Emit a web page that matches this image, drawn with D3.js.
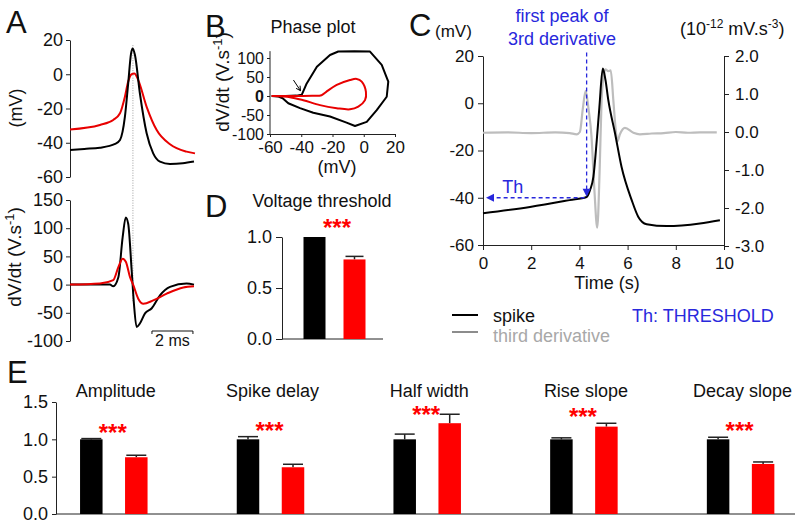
<!DOCTYPE html>
<html><head><meta charset="utf-8">
<script src="https://cdn.jsdelivr.net/npm/d3@7/dist/d3.min.js"></script>
<style>body{margin:0;background:#fff}svg{display:block}</style>
</head><body>
<svg id="c" width="799" height="523"></svg>
<script>
// ---------------- DATA ----------------
// Panel A (time in ms)
const aVmBlackT = [0, 0.7, 1.46, 2.2, 2.44, 2.68, 2.84, 2.98, 3.06, 3.17, 3.41, 3.74, 4.06, 4.39, 4.88, 5.5, 6.05];
const aVmBlack  = [-44.2, -43.6, -42.9, -40.7, -38.4, -24.8, -5.3, 12.2, 15.1, 11.2, -11.1, -34.5, -46.2, -51, -52.4, -52, -51];
const aVmRedT   = [0, 1.46, 2.11, 2.44, 2.68, 2.84, 3.01, 3.14, 3.33, 3.74, 4.23, 4.88, 5.69, 6.1];
const aVmRed    = [-32.2, -29.6, -26.7, -22.8, -13.1, -4.3, 0.1, 0.5, -3.4, -19, -32.6, -40.9, -45.2, -46.2];
const aDvBlackT = [0, 1.95, 2.11, 2.36, 2.57, 2.72, 2.84, 3.01, 3.12, 3.25, 3.41, 3.66, 3.99, 4.39, 4.88, 5.69, 6.05];
const aDvBlack  = [0, 0, -3, 13, 84, 119, 108, 25, -34, -75, -69, -51, -42, -19, -4, 2, 0];
const aDvRedT   = [0, 1.46, 2.11, 2.36, 2.57, 2.73, 2.93, 3.09, 3.33, 3.58, 4.06, 4.72, 5.53, 6.05];
const aDvRed    = [0, 2, 8, 31, 46, 40, 13, -1, -25, -34, -28, -16, -5, -3];
const aPeakTime = 3.07;
const aScaleBarStart = 4.0, aScaleBarLen = 2;
const aTicksVm = [20, 0, -20, -40, -60];
const aTicksDv = [150, 100, 50, 0, -50, -100];

// Panel B (phase plot: mV vs V/s)
const bBlackV  = [-59, -50, -43, -39.7, -36.5, -30, -21.6, -16.3, -6, 4, 11.5, 15.7, 14.7, 8.3, 1.9, -5.6, -11, -21.6, -32.3, -40.8, -48.3, -51.9, -55, -59];
const bBlackDV = [0, 0, 1, 3, 33, 77, 108, 117, 118, 117, 82, 38, -2, -37, -68, -79, -70, -54, -44, -32, -19, -6, -1, 0];
const bRedV    = [-59, -45, -33, -27, -24, -17.3, -8.8, -4.5, -1.3, 1.4, 0.8, -3.5, -8.8, -17.3, -28, -38.7, -47.2, -57];
const bRedDV   = [0, 0, 0.5, 2, 11, 29, 42, 45, 38, 11, -11, -28, -35, -32, -24, -11, -3, 0];
const bTicksX = [-60, -40, -20, 0, 20];
const bTicksY = [100, 50, 0, -50, -100];

// Panel C (time in s)
const cSpikeT = [0, 1.95, 3.6, 4.3, 4.44, 4.58, 4.72, 4.83, 4.97, 5.08, 5.2, 5.48, 5.75, 6.17, 6.44, 6.79, 7.62, 9.0, 9.83];
const cSpikeV = [-46.6, -43.9, -41, -39.7, -36.8, -31.2, -15.7, -1.6, 14.7, 10, 1.3, -12.8, -27, -41, -48, -51.2, -52, -50.9, -49.5];
const cDerivT = [0, 1, 2, 3, 3.6, 3.89, 4.02, 4.14, 4.26, 4.38, 4.5, 4.62, 4.74, 4.84, 4.92, 5.0, 5.08, 5.2, 5.3, 5.41, 5.5, 5.58, 5.68, 5.89, 6.24, 6.51, 7, 7.5, 8, 8.5, 9, 9.7];
const cDeriv  = [-0.02, -0.01, -0.03, -0.01, -0.03, -0.06, 0, 0.6, 1.08, 0.6, -0.1, -1.5, -2.52, -1.0, 0.82, 1.45, 1.65, 1.6, 1.62, 0.82, 0.1, -0.24, -0.06, 0.11, -0.02, -0.06, -0.04, -0.03, 0.0, -0.02, -0.01, -0.01];
const cThreshT = 4.3, cThreshV = -40;
const cTicksX = [0, 2, 4, 6, 8, 10];
const cTicksL = [20, 0, -20, -40, -60];
const cTicksR = [2, 1, 0, -1, -2, -3];

// Panel D
const dGroups = ["control", "treated"];
const dValues = [1.0, 0.78];
const dErrors = [0, 0.03];
const dTicks = [0, 0.5, 1.0];

// Panel E
const eCategories = ["Amplitude", "Spike delay", "Half width", "Rise slope", "Decay slope"];
const eBlack    = [1.0, 1.0, 1.0, 1.0, 1.0];
const eBlackErr = [0.01, 0.036, 0.07, 0.02, 0.028];
const eRed      = [0.76, 0.626, 1.216, 1.17, 0.67];
const eRedErr   = [0.027, 0.04, 0.12, 0.045, 0.027];
const eSig      = ["***", "***", "***", "***", "***"];
const eTicks = [0, 0.5, 1.0, 1.5];

// ---------------- DRAWING ----------------
const F = '"Liberation Sans", Arial, Helvetica, sans-serif';
const BLUE = "#2828dc", RED = "#ff0000", REDLINE = "#e80000", AX = "#222";
const svg = d3.select("#c");
const fmtInt = d => String(d);
const fmt1 = d => d.toFixed(1);

function styleAxis(g, fs) {
  g.selectAll("path.domain").attr("stroke", AX).attr("stroke-width", 1);
  g.selectAll(".tick line").attr("stroke", AX).attr("stroke-width", 1);
  g.selectAll(".tick text").attr("font-size", fs).attr("fill", "#111").attr("font-family", F);
  return g;
}
function text(x, y, s, o = {}) {
  return svg.append("text").attr("x", x).attr("y", y).text(s)
    .attr("font-family", F).attr("font-size", o.size || 18)
    .attr("fill", o.fill || "#111").attr("text-anchor", o.anchor || "start")
    .attr("font-weight", o.weight || "normal");
}
function pathLine(xs, ys, X, Y, curve) {
  return d3.line().x(d => X(d[0])).y(d => Y(d[1])).curve(curve)(d3.zip(xs, ys));
}
function rotLabel(x, y, parts, size) {
  const t = svg.append("text").attr("transform", `translate(${x},${y}) rotate(-90)`)
    .attr("text-anchor", "middle").attr("font-family", F).attr("font-size", size).attr("fill", "#111");
  parts.forEach(p => {
    const ts = t.append("tspan").text(p.t);
    if (p.sup) ts.attr("font-size", size * 0.68).attr("dy", -size * 0.38);
    else if (p.after) ts.attr("dy", size * 0.38);
  });
  return t;
}

// Panel letters
text(6, 33, "A", {size: 31});
text(205, 37, "B", {size: 31});
text(409, 36, "C", {size: 31});
text(205, 217, "D", {size: 31});
text(7, 383, "E", {size: 31});

// ---- Panel A ----
const xA = d3.scaleLinear().domain([0, 6.1]).range([70, 195]);
const yA1 = d3.scaleLinear().domain([-60, 20]).range([177, 40]);
const yA2 = d3.scaleLinear().domain([-100, 150]).range([341, 200]);
styleAxis(svg.append("g").attr("transform", "translate(70,0)")
  .call(d3.axisLeft(yA1).tickValues(aTicksVm).tickFormat(fmtInt).tickSize(4).tickSizeOuter(0).tickPadding(3)), 18);
styleAxis(svg.append("g").attr("transform", "translate(70,0)")
  .call(d3.axisLeft(yA2).tickValues(aTicksDv).tickFormat(fmtInt).tickSize(4).tickSizeOuter(0).tickPadding(3)), 18);
rotLabel(22, 108, [{t: "(mV)"}], 18);
rotLabel(21, 257, [{t: "dV/dt (V.s"}, {t: "-1", sup: true}, {t: ")", after: true}], 19);
svg.append("line").attr("x1", xA(aPeakTime)).attr("x2", xA(aPeakTime))
  .attr("y1", yA1(17)).attr("y2", yA2(-30))
  .attr("stroke", "#888").attr("stroke-width", 0.8).attr("stroke-dasharray", "1,1.5");
const mono = d3.curveMonotoneX;
svg.append("path").attr("d", pathLine(aVmRedT, aVmRed, xA, yA1, mono)).attr("fill", "none").attr("stroke", REDLINE).attr("stroke-width", 2);
svg.append("path").attr("d", pathLine(aVmBlackT, aVmBlack, xA, yA1, mono)).attr("fill", "none").attr("stroke", "#000").attr("stroke-width", 2);
svg.append("path").attr("d", pathLine(aDvBlackT, aDvBlack, xA, yA2, mono)).attr("fill", "none").attr("stroke", "#000").attr("stroke-width", 2);
svg.append("path").attr("d", pathLine(aDvRedT, aDvRed, xA, yA2, mono)).attr("fill", "none").attr("stroke", REDLINE).attr("stroke-width", 2);
// scale bar
{
  const x0 = xA(aScaleBarStart), x1 = xA(aScaleBarStart + aScaleBarLen), y = 331;
  svg.append("path").attr("d", `M${x0},${y + 3}V${y}H${x1}V${y + 3}`).attr("fill", "none").attr("stroke", "#111").attr("stroke-width", 1);
  text((x0 + x1) / 2, 346, "2 ms", {size: 16, anchor: "middle"});
}

// ---- Panel B ----
const xB = d3.scaleLinear().domain([-60, 20]).range([270, 395]);
const yB = d3.scaleLinear().domain([-100, 100]).range([134, 58]);
const gBy = styleAxis(svg.append("g").attr("transform", "translate(270,0)")
  .call(d3.axisLeft(yB).tickValues(bTicksY).tickFormat(fmtInt).tickSize(3).tickSizeOuter(0).tickPadding(3)), 16);
gBy.selectAll(".tick text").filter(d => d === 0).attr("font-weight", "bold");
gBy.select("path.domain").attr("d", `M-0,${yB(118)}V${yB(-100)}`);
styleAxis(svg.append("g").attr("transform", "translate(0,134)")
  .call(d3.axisBottom(xB).tickValues(bTicksX).tickFormat(fmtInt).tickSize(3).tickSizeOuter(0).tickPadding(4)), 17);
text(313, 33, "Phase plot", {size: 18, anchor: "middle"});
text(337, 173, "(mV)", {size: 18, anchor: "middle"});
rotLabel(229, 82, [{t: "dV/dt (V.s"}, {t: "-1", sup: true}, {t: ")", after: true}], 19);
svg.append("path").attr("d", pathLine(bBlackV, bBlackDV, xB, yB, d3.curveLinear)).attr("fill", "none").attr("stroke", "#000").attr("stroke-width", 2).attr("stroke-linejoin", "round");
svg.append("path").attr("d", pathLine(bRedV, bRedDV, xB, yB, d3.curveCatmullRom.alpha(0.5))).attr("fill", "none").attr("stroke", REDLINE).attr("stroke-width", 2);
{
  const x0 = xB(-45), y0 = yB(42), x1 = xB(-40.5), y1 = yB(14);
  svg.append("line").attr("x1", x0).attr("y1", y0).attr("x2", x1).attr("y2", y1).attr("stroke", "#000").attr("stroke-width", 1);
  const ang = Math.atan2(y1 - y0, x1 - x0), L = 5;
  const p = [[x1 - L * Math.cos(ang - 0.5), y1 - L * Math.sin(ang - 0.5)], [x1, y1], [x1 - L * Math.cos(ang + 0.5), y1 - L * Math.sin(ang + 0.5)]];
  svg.append("path").attr("d", d3.line()(p)).attr("fill", "none").attr("stroke", "#000").attr("stroke-width", 1);
}

// ---- Panel C ----
const xC = d3.scaleLinear().domain([0, 10]).range([483, 724]);
const yC = d3.scaleLinear().domain([-60, 20]).range([245, 56]);
const yC2 = d3.scaleLinear().domain([-3, 2]).range([246, 56]);
styleAxis(svg.append("g").attr("transform", "translate(483,0)")
  .call(d3.axisLeft(yC).tickValues(cTicksL).tickFormat(fmtInt).tickSize(5).tickSizeOuter(0).tickPadding(4)), 17);
styleAxis(svg.append("g").attr("transform", "translate(0,245)")
  .call(d3.axisBottom(xC).tickValues(cTicksX).tickFormat(fmtInt).tickSize(5).tickSizeOuter(0).tickPadding(7)), 17);
styleAxis(svg.append("g").attr("transform", "translate(724,0)")
  .call(d3.axisRight(yC2).tickValues(cTicksR).tickFormat(fmt1).tickSize(5).tickSizeOuter(0).tickPadding(6)), 17);
text(435, 37, "(mV)", {size: 17});
{
  const t = svg.append("text").attr("x", 680).attr("y", 35).attr("font-family", F).attr("font-size", 18).attr("fill", "#111");
  t.append("tspan").text("(10");
  t.append("tspan").text("-12").attr("font-size", 12).attr("dy", -7);
  t.append("tspan").text(" mV.s").attr("dy", 7);
  t.append("tspan").text("-3").attr("font-size", 12).attr("dy", -7);
  t.append("tspan").text(")").attr("dy", 7);
}
text(607, 289, "Time (s)", {size: 18, anchor: "middle"});
svg.append("path").attr("d", pathLine(cDerivT, cDeriv, xC, yC2, d3.curveMonotoneX)).attr("fill", "none").attr("stroke", "#bdbdbd").attr("stroke-width", 2.2);
svg.append("path").attr("d", pathLine(cSpikeT, cSpikeV, xC, yC, d3.curveMonotoneX)).attr("fill", "none").attr("stroke", "#000").attr("stroke-width", 2);
text(562, 22, "first peak of", {size: 18, anchor: "middle", fill: BLUE});
text(562, 45, "3rd derivative", {size: 18, anchor: "middle", fill: BLUE});
{
  const tx = xC(cThreshT), ty = yC(cThreshV);
  const top = yC(21.5);
  svg.append("line").attr("x1", tx).attr("x2", tx).attr("y1", top).attr("y2", ty - 7)
    .attr("stroke", BLUE).attr("stroke-width", 1.3).attr("stroke-dasharray", "4,3");
  svg.append("path").attr("d", `M${tx - 4},${ty - 9}L${tx + 4},${ty - 9}L${tx},${ty - 1}Z`).attr("fill", BLUE);
  const lx = xC(0) + 3;
  svg.append("line").attr("x1", tx - 2).attr("x2", lx + 7).attr("y1", ty).attr("y2", ty)
    .attr("stroke", BLUE).attr("stroke-width", 1.3).attr("stroke-dasharray", "4,3");
  svg.append("path").attr("d", `M${lx + 8},${ty - 4}L${lx + 8},${ty + 4}L${lx},${ty}Z`).attr("fill", BLUE);
  text(xC(0.8), ty - 5, "Th", {size: 18, fill: BLUE});
}
// legend
svg.append("line").attr("x1", 452).attr("x2", 478).attr("y1", 315).attr("y2", 315).attr("stroke", "#000").attr("stroke-width", 2);
text(493, 322, "spike", {size: 18});
svg.append("line").attr("x1", 452).attr("x2", 478).attr("y1", 332).attr("y2", 332).attr("stroke", "#8c8c8c").attr("stroke-width", 2);
text(493, 342, "third derivative", {size: 18, fill: "#a8a8a8"});
text(632, 322, "Th: THRESHOLD", {size: 18, fill: BLUE});

// ---- Panel D ----
const yD = d3.scaleLinear().domain([0, 1]).range([339, 237]);
const xD = d3.scaleBand().domain(dGroups).range([293.5, 375.5]).paddingInner(0.45).paddingOuter(0.25);
styleAxis(svg.append("g").attr("transform", "translate(282,0)")
  .call(d3.axisLeft(yD).tickValues(dTicks).tickFormat(fmt1).tickSize(6).tickSizeOuter(0).tickPadding(4)), 18);
svg.append("line").attr("x1", 282).attr("x2", 383).attr("y1", yD(0)).attr("y2", yD(0)).attr("stroke", AX);
const dColors = ["#000", RED];
dGroups.forEach((g, i) => {
  const x = xD(g), w = xD.bandwidth();
  if (dErrors[i] > 0) {
    const cx = x + w / 2, yt = yD(dValues[i] + dErrors[i]);
    svg.append("line").attr("x1", cx).attr("x2", cx).attr("y1", yD(dValues[i])).attr("y2", yt).attr("stroke", "#222").attr("stroke-width", 1.5);
    svg.append("line").attr("x1", cx - 9).attr("x2", cx + 9).attr("y1", yt).attr("y2", yt).attr("stroke", "#222").attr("stroke-width", 1.5);
  }
  svg.append("rect").attr("x", x).attr("width", w).attr("y", yD(dValues[i])).attr("height", yD(0) - yD(dValues[i])).attr("fill", dColors[i]);
});
text(322, 207, "Voltage threshold", {size: 18, anchor: "middle"});
text(337, 236, "***", {size: 24, anchor: "middle", fill: RED, weight: "bold"});

// ---- Panel E ----
const yE = d3.scaleLinear().domain([0, 1.5]).range([514, 402]);
const xE = d3.scaleBand().domain(eCategories).range([35.45, 818.95]);
const xE1 = d3.scaleBand().domain(["black", "red"]).range([-45, 45]).paddingInner(0.5).paddingOuter(0.25);
styleAxis(svg.append("g").attr("transform", "translate(56,0)")
  .call(d3.axisLeft(yE).tickValues(eTicks).tickFormat(fmt1).tickSize(4).tickSizeOuter(0).tickPadding(4)), 18);
svg.append("line").attr("x1", 56).attr("x2", 795).attr("y1", yE(0)).attr("y2", yE(0)).attr("stroke", AX);
eCategories.forEach((c, i) => {
  const cx = xE(c) + xE.bandwidth() / 2;
  const series = [{k: "black", v: eBlack[i], e: eBlackErr[i], col: "#000"}, {k: "red", v: eRed[i], e: eRedErr[i], col: RED}];
  series.forEach(s => {
    const x = cx + xE1(s.k), w = xE1.bandwidth(), bc = x + w / 2, yt = yE(s.v + s.e);
    svg.append("line").attr("x1", bc).attr("x2", bc).attr("y1", yE(s.v)).attr("y2", yt).attr("stroke", "#222").attr("stroke-width", 1.5);
    svg.append("line").attr("x1", bc - 10).attr("x2", bc + 10).attr("y1", yt).attr("y2", yt).attr("stroke", "#222").attr("stroke-width", 1.5);
    svg.append("rect").attr("x", x).attr("width", w).attr("y", yE(s.v)).attr("height", yE(0) - yE(s.v)).attr("fill", s.col);
  });
  text(cx + 2, 397, c, {size: 18, anchor: "middle"});
  const topY = yE(Math.max(eBlack[i] + eBlackErr[i], eRed[i] + eRedErr[i]));
  const starCenter = Math.max(topY - 12, 409);
  text(cx - 1, starCenter + 14, eSig[i], {size: 24, anchor: "middle", fill: RED, weight: "bold"});
});
</script>
</body></html>
